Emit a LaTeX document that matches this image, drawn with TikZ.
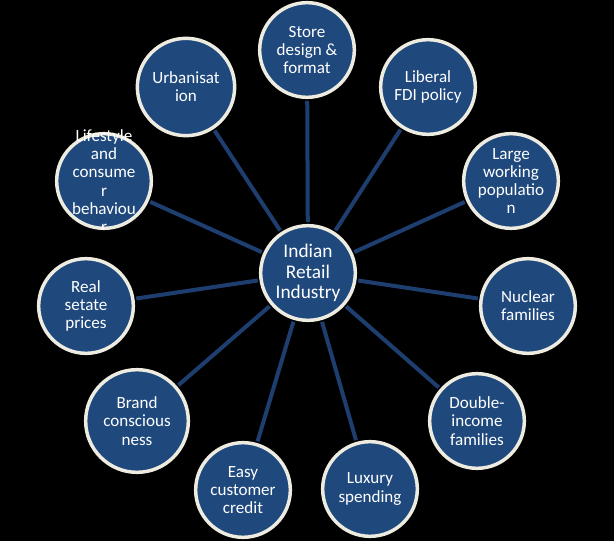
\documentclass[tikz,border=0pt]{standalone}
\usepackage{fontspec}
\setmainfont{Carlito}

\definecolor{nodeblue}{RGB}{31,73,125}
\definecolor{linkblue}{RGB}{30,62,112}
\definecolor{rimwhite}{RGB}{238,236,225}

\tikzset{every picture/.style={line width=0.75pt}}
\tikzset{
  factor/.style={circle, draw=rimwhite, fill=nodeblue, line width=2.6pt,
    minimum size=71pt, inner sep=0pt, align=center, text=white,
    font=\fontsize{12.8}{13.7}\selectfont},
  hubnode/.style={factor, font=\fontsize{14.5}{15.5}\selectfont},
  factortext/.style={inner sep=0pt, align=center, text=white,
    font=\fontsize{12.8}{13.7}\selectfont},
  spoke/.style={draw=linkblue, line width=3pt, shorten <=1.3pt, shorten >=1.3pt}
}

\begin{document}
\begin{tikzpicture}[x=0.75pt,y=0.75pt,yscale=-1,xscale=1]
%set diagram left start at 0, and has height of 541
\fill[black] (0,0) rectangle (614,541);
\useasboundingbox (0,0) rectangle (614,541);

% Hub
\node [hubnode] (hub) at (308,273) {Indian\\Retail\\Industry};

% Factor circles
\node [factor] (store) at (307,50) {Store\\design \&\\format};
\node [factor] (fdi) at (428,87) {Liberal\\FDI policy};
\node [factor] (workforce) at (511,181) {Large\\working\\populatio\\n};
\node [factor] (nuclear) at (528,306) {Nuclear\\families};
\node [factor] (doubleinc) at (477,421) {Double-\\income\\families};
\node [factor] (luxury) at (370,489) {Luxury\\spending};
\node [factor] (credit) at (243,490) {Easy\\customer\\credit};
\node [factor, minimum size=77pt] (brand) at (137,421) {Brand\\conscious\\ness};
\node [factor] (realty) at (86,306) {Real\\setate\\prices};
\node [factor] (lifestyle) at (104,181) {};
\node [factor, minimum size=73pt] (urban) at (186,87) {Urbanisat\\ion};

% Text Node (runs over its circle, cut at the bottom)
\begin{scope}
\clip (0,0) rectangle (614,230);
\node [factortext] (lifestyletext) at (lifestyle) {Lifestyle\\and\\consume\\r\\behaviou\\r};
\end{scope}

% Spokes
\foreach \f in {store,fdi,workforce,nuclear,doubleinc,luxury,credit,brand,realty,lifestyle,urban}
  \draw [spoke] (hub) -- (\f);

\end{tikzpicture}
\end{document}
